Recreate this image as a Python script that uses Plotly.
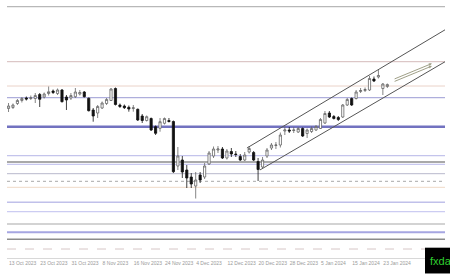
import plotly.graph_objects as go

# ---- data (price units) ----
bars = list(range(86))
opens = [149.15,149.25,149.65,149.95,150.20,150.15,150.15,150.55,150.30,150.65,
         150.90,150.65,151.00,150.30,150.20,150.33,150.60,150.80,150.17,149.00,
         148.70,149.20,149.65,149.95,151.15,149.50,149.40,149.27,149.15,149.07,
         148.40,147.95,148.15,147.33,147.17,147.67,147.95,147.85,143.40,144.00,
         143.00,142.30,141.40,142.50,142.30,143.60,144.40,145.00,145.10,144.20,
         144.85,144.60,144.35,144.00,144.80,144.75,143.85,143.30,144.40,145.20,
         145.45,145.50,146.90,147.00,146.95,146.80,147.15,146.65,146.85,147.00,
         147.15,147.70,148.70,148.35,148.25,148.30,149.50,150.15,150.15,150.85,
         150.95,151.00,152.10,152.30,151.15,151.35]
highs = [149.70,149.65,150.10,150.30,150.35,150.45,150.70,150.70,150.75,151.35,
         151.05,151.15,151.10,150.50,150.70,151.20,151.00,150.90,150.25,149.20,
         149.50,149.85,150.20,151.20,151.25,149.65,149.55,149.45,149.50,149.15,
         148.60,148.45,148.25,147.45,148.20,148.25,148.20,147.95,145.30,144.40,
         143.50,142.70,142.80,142.80,143.70,144.90,145.35,145.40,145.30,145.10,
         145.20,144.90,144.60,144.80,145.40,144.90,144.20,144.30,145.20,145.70,
         145.80,146.75,147.35,147.30,147.30,147.30,147.25,147.15,147.35,147.50,
         148.20,148.90,148.90,148.50,148.40,149.60,150.20,150.25,151.00,151.20,
         151.25,152.40,152.35,153.00,151.70,151.65]
lows = [148.80,149.10,149.50,149.75,149.95,150.00,149.70,149.30,150.15,150.45,
        150.60,150.50,149.75,149.00,150.00,150.20,150.45,150.25,148.85,147.83,
        148.20,149.10,149.50,149.90,149.45,149.20,149.10,148.83,148.83,147.90,
        147.70,147.85,146.90,146.50,146.83,147.55,147.75,142.70,143.00,142.20,
        141.20,141.20,140.15,141.70,142.10,143.50,144.20,144.70,144.10,144.05,
        144.30,144.30,143.90,143.90,144.65,143.90,141.90,143.20,144.20,145.00,
        145.10,145.25,146.50,146.70,146.70,146.70,146.30,146.20,146.70,146.90,
        147.10,147.60,148.20,148.05,147.90,148.20,149.40,149.40,150.05,150.70,
        150.80,150.90,151.80,152.15,150.50,151.20]
closes = [149.40,149.50,149.95,150.15,150.10,150.22,150.45,150.07,150.60,150.82,
          150.75,151.00,149.83,150.00,150.45,150.80,150.75,150.33,148.93,148.40,
          149.35,149.70,150.05,151.10,149.55,149.35,149.23,149.10,149.22,148.00,
          147.95,148.33,147.00,146.67,147.83,148.15,147.85,142.83,144.40,142.80,
          142.20,141.60,142.00,142.00,143.40,144.70,145.10,145.10,144.20,144.90,
          144.60,144.55,144.00,144.50,145.15,144.00,143.05,144.00,145.00,145.50,
          145.50,146.50,147.00,146.90,147.00,147.15,146.40,147.00,147.15,147.35,
          148.05,148.65,148.30,148.15,148.05,149.50,150.05,149.50,150.80,150.95,
          151.05,152.15,151.90,152.45,151.60,151.55]

tick_bars = [0, 7, 14, 21, 28, 35, 42, 49, 56, 63, 70, 77, 84]
tick_labels = ["13 Oct 2023", "23 Oct 2023", "31 Oct 2023", "8 Nov 2023",
               "16 Nov 2023", "24 Nov 2023", "4 Dec 2023", "12 Dec 2023",
               "20 Dec 2023", "28 Dec 2023", "5 Jan 2024", "15 Jan 2024",
               "23 Jan 2024"]

# horizontal levels: price, colour, width, dash
level_prices = [159.33, 153.83, 151.40, 150.23, 147.33, 144.43, 143.80, 143.57,
                142.63, 141.87, 141.27, 139.77, 138.83, 137.60, 136.77, 136.07, 135.10]
level_colors = ["#b8b8b8", "#d4baba", "#ead2c8", "#aeaedc", "#7272c0", "#c4c4ec",
                "#8c8c8c", "#c8c8f0", "#b8b8cc", "#a8a8a8", "#efd9c6", "#c0c0ea",
                "#ccccf2", "#a8a8a8", "#a6a6e2", "#8c8c8c", "#d6c6c6"]
level_widths = [1.2, 1.0, 1.0, 1.3, 2.5, 1.3, 1.6, 1.2, 1.0, 1.0, 1.0, 1.4,
                1.2, 1.2, 2.0, 1.6, 1.0]
level_dash = ["solid", "solid", "solid", "solid", "solid", "solid", "solid", "solid",
              "solid", "dot", "solid", "solid", "solid", "solid", "solid", "solid", "dash"]

# channel lines
upper_x = [53.5, 99.0]
upper_y = [145.2, 157.3]
lower_x = [56.4, 99.0]
lower_y = [143.0, 154.1]

# projection arrows (tail -> head)
arrow_tail_x = [86.3, 86.3]
arrow_tail_y = [151.8, 152.05]
arrow_head_x = [95.0, 95.0]
arrow_head_y = [153.4, 153.65]

fig = go.Figure()

for p, col, w, d in zip(level_prices, level_colors, level_widths, level_dash):
    fig.add_shape(type="line", xref="paper", x0=0, x1=1, yref="y", y0=p, y1=p,
                  line=dict(color=col, width=w, dash=d), layer="below")

fig.add_trace(go.Scatter(x=upper_x, y=upper_y, mode="lines",
                         line=dict(color="#555555", width=1), showlegend=False,
                         hoverinfo="skip"))
fig.add_trace(go.Scatter(x=lower_x, y=lower_y, mode="lines",
                         line=dict(color="#555555", width=1), showlegend=False,
                         hoverinfo="skip"))

fig.add_trace(go.Candlestick(
    x=bars, open=opens, high=highs, low=lows, close=closes,
    increasing=dict(line=dict(color="#666666", width=0.8), fillcolor="white"),
    decreasing=dict(line=dict(color="#111111", width=0.8), fillcolor="#111111"),
    whiskerwidth=0, showlegend=False))

for tx, ty, hx, hy in zip(arrow_tail_x, arrow_tail_y, arrow_head_x, arrow_head_y):
    fig.add_annotation(x=hx, y=hy, ax=tx, ay=ty, xref="x", yref="y",
                       axref="x", ayref="y", text="", showarrow=True,
                       arrowhead=2, arrowsize=0.6, arrowwidth=1,
                       arrowcolor="#a0a088")

# logo box
fig.add_shape(type="rect", xref="paper", yref="paper", x0=0.9543, x1=1.02,
              y0=-0.06, y1=0.04, fillcolor="#000000", line=dict(width=0),
              layer="above")
fig.add_annotation(xref="paper", yref="paper", x=0.962, y=-0.012,
                   xanchor="left", yanchor="middle", text="fxda",
                   showarrow=False,
                   font=dict(family="Liberation Sans", size=11, color="#2fcf2f"))

fig.update_layout(
    width=450, height=274,
    margin=dict(l=7, r=5, t=0, b=16),
    paper_bgcolor="white", plot_bgcolor="white",
    showlegend=False,
    xaxis=dict(range=[-0.34, 97.94], rangeslider=dict(visible=False),
               tickmode="array", tickvals=tick_bars, ticktext=tick_labels,
               ticklabelposition="outside right", tickangle=0, automargin=False,
               tickfont=dict(family="Liberation Sans", size=5, color="#9a9a9a"),
               showgrid=False, zeroline=False, showline=True,
               linecolor="#d8d8d8", linewidth=1, ticks=""),
    yaxis=dict(range=[134.2, 160.0], showgrid=False, zeroline=False,
               automargin=False,
               showticklabels=False, showline=False, ticks=""),
)

fig.write_html("out.html")
